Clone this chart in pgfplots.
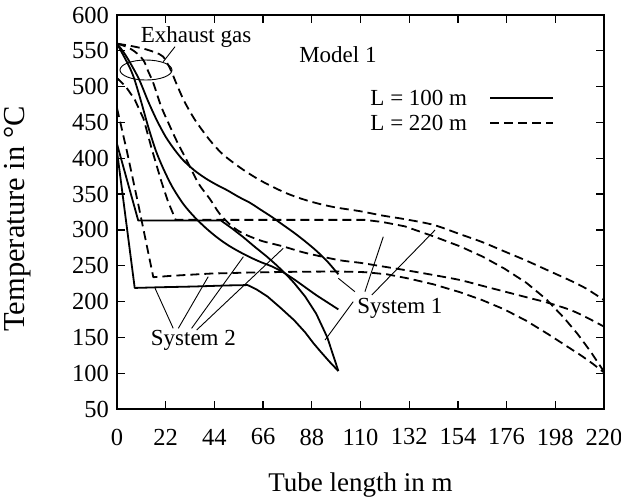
\documentclass[border=0pt]{standalone}
\usepackage{fontspec}
\setmainfont{Liberation Serif}
\usepackage{pgfplots}
\pgfplotsset{compat=1.18}
\newcommand\tickfont{\fontsize{24.5bp}{28bp}\selectfont}
\newcommand\annfont{\fontsize{23bp}{27bp}\selectfont}
\newcommand\labfont{\fontsize{27bp}{31bp}\selectfont}
\newcommand\ylabfont{\fontsize{30.5bp}{34bp}\selectfont}
\begin{document}
\begin{tikzpicture}
\useasboundingbox (-117bp,-91bp) rectangle (504bp,409bp);
\begin{axis}[
 at={(0,0)}, anchor=south west, scale only axis, width=487bp, height=394bp,
 xmin=0, xmax=220, ymin=50, ymax=600,
 xtick={0,22,44,66,88,110,132,154,176,198,220},
 xticklabels={0,22,44,66,88,110,132,154,176,198,220},
 ytick={50,100,150,200,250,300,350,400,450,500,550,600},
 yticklabels={50,100,150,200,250,300,350,400,450,500,550,600},
 tick align=inside, major tick length=8bp,
 every tick/.style={black, line width=1.2bp},
 axis line style={line width=1.4bp},
 xticklabel style={font=\tickfont, anchor=center, inner sep=0pt, yshift=-28bp},
 yticklabel style={font=\tickfont, anchor=east, inner sep=0pt, xshift=-8bp},
 xlabel={Tube length in m}, ylabel={Temperature in °C},
 xlabel style={font=\labfont, at={(axis description cs:0.5,-0.1929)}, anchor=center},
 ylabel style={font=\ylabfont, at={(axis description cs:-0.2033,0.4822)}, anchor=center},
 clip=false,
 legend plot pos=right,
 legend image code/.code={\draw[#1] (0bp,0bp) -- (63bp,0bp);},
 legend style={draw=none, fill=none, at={(axis cs:114.5,495.3)}, anchor=north west,
   inner sep=0pt, outer sep=0pt, row sep=8bp, column sep=22bp,
   nodes={inner sep=0pt, font=\annfont}},
 sol/.style={black, line width=1.8bp, line join=round},
 das/.style={black, line width=1.8bp, dash pattern=on 9bp off 5bp, line join=round},
]
\addlegendimage{sol}
\addlegendentry{L = 100 m}
\addlegendimage{das}
\addlegendentry{L = 220 m}

% System 1, exhaust gas, L = 100 m
\addplot[sol, smooth, forget plot] coordinates {
(0,560) (3,548) (6,533) (10,510) (14,480) (18,453) (22,430) (26,412) (30,397)
(35,383) (40,372) (45,363) (50,355) (55,346) (60,338) (65,328) (70,318) (75,307)
(80,296) (85,284) (90,271) (95,256) (100,238)};
% System 2, exhaust gas, L = 100 m
\addplot[sol, smooth, forget plot] coordinates {
(0,560) (3,543) (6,525) (8,509) (11,478) (14,445) (17.5,411) (21,385) (25,360)
(30,336) (35,318) (40,303) (45,290) (50,279) (55,270) (60,262) (65,255) (70,249)
(75,241) (80,231) (85,220) (90,209) (95,199) (100,189)};
% System 1, working fluid, L = 100 m
\addplot[sol, forget plot] coordinates {
(0,420) (9.6,313) (47,313) (52,302) (57,290) (62,277) (67.6,263) (72,251)
(76.7,237) (80,226) (85,207) (90,183) (95,150) (100,103)};
% System 2, working fluid, L = 100 m
\addplot[sol, forget plot] coordinates {
(0,410) (8,219) (20,220) (35,221) (50,222.5) (59,223) (63,217) (68,207)
(73.6,192) (80,174) (85,157) (88.7,142) (92,130) (96,116) (100,103)};

% System 1, exhaust gas, L = 220 m
\addplot[das, smooth, forget plot] coordinates {
(0,560) (6,557) (12,553) (17,548) (20.8,542) (24,525) (27,503) (30,482) (33,465)
(36,450) (42,425) (48,405) (57,384) (66,367) (76.7,351) (87,340) (97.7,332)
(110,326) (120,320) (130,315) (143,307) (155,294) (165,283) (175,270) (185,257)
(195,243) (205,229) (212,218) (220,202)};
% System 2, exhaust gas, L = 220 m
\addplot[das, smooth, forget plot] coordinates {
(0,560) (4,556) (8,549) (11.9,537) (14,522) (16.4,505) (20,472) (24,444) (27,424)
(30,406) (33,388) (37,364) (42,343) (46.5,322) (52,305) (57,295) (65,285)
(75,277) (85,268) (100,258) (110,254) (120,249) (130,244) (143,237) (155,230)
(165,222) (175,214) (185,206) (195,198) (205,188) (212,178) (220,165)};
% System 1, working fluid, L = 220 m
\addplot[das, forget plot] coordinates {
(0,512) (4,500) (8,482) (12,455) (15.7,413) (20,368) (23,340) (26.5,314)
(40,314) (60,314) (80,314) (100,314) (112,314) (120,311) (130,305) (143,291)
(155,277) (165,263) (175,246) (185,226) (194,203) (202,177) (208,155) (214,130)
(220,102)};
% System 2, working fluid, L = 220 m
\addplot[das, forget plot] coordinates {
(0,470) (4.4,411) (10,330) (16.4,234) (25,236) (42,239) (60,240.5) (80,241.5)
(100,242) (112,241) (122,238) (132,232) (143,224) (155,213) (165,202) (175,189)
(185,173) (195,154) (203,138) (210,124) (215,113) (220,101)};

% annotations
\draw[line width=0.9bp] (axis cs:13.1,523.2) ellipse [x radius=26bp, y radius=10bp];
\draw[line width=0.9bp] (axis cs:20.9,534.8) -- (axis cs:26.2,555.7);
\node[font=\annfont, inner sep=0pt] at (axis cs:35.7,569.3) {Exhaust gas};
\node[font=\annfont, inner sep=0pt] at (axis cs:99.8,544.1) {Model 1};
\node[font=\annfont, inner sep=0pt] at (axis cs:127.8,190.6) {System 1};
\node[font=\annfont, inner sep=0pt] at (axis cs:34.5,145.2) {System 2};
\draw[line width=0.9bp] (axis cs:107.5,213.7) -- (axis cs:100.0,232.4);
\draw[line width=0.9bp] (axis cs:112.0,213.7) -- (axis cs:120.3,290.5);
\draw[line width=0.9bp] (axis cs:115.1,209.1) -- (axis cs:143.7,299.9);
\draw[line width=0.9bp] (axis cs:106.7,199.8) -- (axis cs:94.0,146.3);
\draw[line width=0.9bp] (axis cs:25.4,162.6) -- (axis cs:17.2,218.5);
\draw[line width=0.9bp] (axis cs:27.7,162.6) -- (axis cs:41.2,234.7);
\draw[line width=0.9bp] (axis cs:33.7,162.6) -- (axis cs:57.1,262.6);
\draw[line width=0.9bp] (axis cs:36.0,160.3) -- (axis cs:75.1,274.3);
\end{axis}
\end{tikzpicture}
\end{document}
